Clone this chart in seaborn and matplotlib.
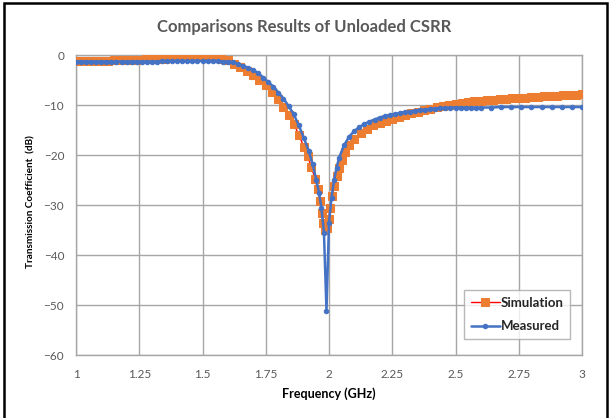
import matplotlib
matplotlib.use("Agg")
import matplotlib.pyplot as plt
import seaborn as sns
from matplotlib.patches import Rectangle

# simulation (orange squares, red line)
sim_freq = [1.000, 1.025, 1.050, 1.075, 1.100, 1.125, 1.150, 1.175, 1.200, 1.225,
            1.250, 1.275, 1.300, 1.325, 1.350, 1.375, 1.400, 1.425, 1.450, 1.475,
            1.500, 1.525, 1.550, 1.575, 1.600, 1.625, 1.650, 1.675, 1.700, 1.725,
            1.750, 1.775, 1.800, 1.820, 1.840, 1.860, 1.880, 1.900, 1.915, 1.930,
            1.945, 1.955, 1.965, 1.972, 1.978, 1.985, 1.992, 1.998, 2.005, 2.012,
            2.020, 2.030, 2.040, 2.050, 2.065, 2.080, 2.100, 2.125, 2.150, 2.175,
            2.200, 2.225, 2.250, 2.275, 2.300, 2.325, 2.350, 2.375, 2.400, 2.425,
            2.450, 2.475, 2.500, 2.525, 2.550, 2.575, 2.600, 2.625, 2.650, 2.675,
            2.700, 2.725, 2.750, 2.775, 2.800, 2.825, 2.850, 2.875, 2.900, 2.925,
            2.950, 2.975, 3.000]
sim_db = [-1.2, -1.2, -1.2, -1.2, -1.1, -1.1, -1.0, -1.0, -1.0, -0.9,
          -0.9, -0.8, -0.8, -0.7, -0.7, -0.6, -0.5, -0.4, -0.4, -0.3,
          -0.3, -0.4, -0.5, -0.7, -1.0, -1.7, -2.3, -3.1, -4.0, -4.9,
          -6.0, -7.3, -8.8, -10.3, -11.9, -13.7, -15.9, -18.3, -20.2, -22.3,
          -24.8, -26.8, -29.2, -31.5, -33.5, -35.0, -34.6, -32.8, -30.5, -28.2,
          -26.2, -24.2, -22.5, -21.0, -19.3, -18.0, -16.8, -15.6, -14.7, -14.0,
          -13.5, -13.1, -12.7, -12.3, -12.0, -11.6, -11.3, -11.0, -10.7, -10.4,
          -10.1, -9.9, -9.7, -9.5, -9.4, -9.2, -9.1, -9.0, -8.9, -8.8,
          -8.7, -8.6, -8.5, -8.5, -8.4, -8.3, -8.2, -8.2, -8.1, -8.0,
          -7.9, -7.9, -7.8]

# measured (blue dots)
meas_freq = [1.00, 1.02, 1.04, 1.06, 1.08, 1.10, 1.12, 1.14, 1.16, 1.18,
             1.20, 1.22, 1.24, 1.26, 1.28, 1.30, 1.32, 1.34, 1.36, 1.38,
             1.40, 1.42, 1.44, 1.46, 1.48, 1.50, 1.52, 1.54, 1.56, 1.58,
             1.60, 1.62, 1.64, 1.66, 1.68, 1.70, 1.72, 1.74, 1.76, 1.78,
             1.80, 1.82, 1.84, 1.86, 1.88, 1.90, 1.92, 1.935, 1.95, 1.96,
             1.97, 1.98, 1.99, 2.00, 2.01, 2.02, 2.03, 2.04, 2.06, 2.08,
             2.10, 2.12, 2.14, 2.16, 2.18, 2.20, 2.22, 2.24, 2.26, 2.28,
             2.30, 2.32, 2.34, 2.36, 2.38, 2.40, 2.42, 2.44, 2.46, 2.48,
             2.50, 2.52, 2.54, 2.56, 2.58, 2.60, 2.64, 2.68, 2.72, 2.76,
             2.80, 2.84, 2.88, 2.92, 2.96, 3.00]
meas_db = [-1.3, -1.3, -1.3, -1.3, -1.3, -1.3, -1.3, -1.3, -1.3, -1.3,
           -1.3, -1.3, -1.3, -1.3, -1.3, -1.3, -1.3, -1.2, -1.2, -1.2,
           -1.2, -1.2, -1.2, -1.2, -1.2, -1.2, -1.2, -1.2, -1.2, -1.3,
           -1.3, -1.4, -1.8, -2.2, -2.5, -3.0, -3.6, -4.5, -5.4, -6.3,
           -7.5, -8.7, -10.2, -11.8, -14.0, -16.5, -19.2, -21.8, -25.0, -27.5,
           -30.5, -35.5, -51.2, -33.5, -28.5, -25.0, -22.5, -20.5, -18.0, -16.3,
           -15.2, -14.4, -13.8, -13.3, -12.9, -12.5, -12.2, -12.0, -11.8, -11.6,
           -11.4, -11.3, -11.1, -11.0, -10.9, -10.8, -10.7, -10.6, -10.6, -10.5,
           -10.5, -10.5, -10.5, -10.5, -10.5, -10.5, -10.5, -10.4, -10.4, -10.4,
           -10.4, -10.4, -10.4, -10.4, -10.4, -10.4]

x_ticks = [1, 1.25, 1.5, 1.75, 2, 2.25, 2.5, 2.75, 3]
x_ticklabels = ["1", "1.25", "1.5", "1.75", "2", "2.25", "2.5", "2.75", "3"]
y_ticks = [0, -10, -20, -30, -40, -50, -60]

sns.set_style("white")
plt.rcParams["font.family"] = ["Lato", "DejaVu Sans"]

fig = plt.figure(figsize=(6.09, 4.18), dpi=100)
ax = fig.add_axes([0.1248, 0.1507, 0.8309, 0.7177])

grid_c = "#a6a6a6"
sns.lineplot(x=sim_freq, y=sim_db, ax=ax, color="#ff0000", linewidth=1.0,
             marker="s", markersize=5.5, markerfacecolor="#ed7d31",
             markeredgecolor="#ed7d31", label="Simulation", zorder=3)
sns.lineplot(x=meas_freq, y=meas_db, ax=ax, color="#4472c4", linewidth=1.8,
             marker="o", markersize=3.2, markerfacecolor="#4472c4",
             markeredgecolor="#4472c4", label="Measured", zorder=4)

ax.set_xlim(1, 3)
ax.set_ylim(-60, 0)
ax.set_xticks(x_ticks)
ax.set_xticklabels(x_ticklabels)
ax.set_yticks(y_ticks)
ax.grid(True, color=grid_c, linewidth=1.0)
for s in ax.spines.values():
    s.set_color(grid_c)
    s.set_linewidth(1.0)
ax.tick_params(length=0, labelsize=8.5, colors="#595959")
ax.tick_params(axis="x", pad=10)
ax.tick_params(axis="y", pad=8.5)

ax.set_xlabel("Frequency (GHz)", fontsize=9, fontweight="bold", color="black", labelpad=5)
ax.set_ylabel("Transmission Coefficient  (dB)", fontsize=7.2, fontweight="bold",
              color="black")
ax.yaxis.set_label_coords(-0.081, 0.513)
fig.text(0.5, 0.935, "Comparisons Results of Unloaded CSRR", ha="center", va="center",
         fontsize=12, fontweight="bold", color="#595959")

leg = ax.legend(loc="lower right", bbox_to_anchor=(0.985, 0.04), frameon=True,
                fancybox=False, fontsize=9.5, handlelength=2.2, handletextpad=0.1,
                borderpad=0.5, labelspacing=0.9, borderaxespad=0.3)
leg.get_frame().set_edgecolor(grid_c)
leg.get_frame().set_linewidth(1.0)
for t in leg.get_texts():
    t.set_fontweight("bold")

fig.patches.append(Rectangle((0.006, -0.02), 0.99, 1.013, transform=fig.transFigure,
                             fill=False, edgecolor="black", linewidth=1.8))

fig.savefig("out.png", dpi=100)
